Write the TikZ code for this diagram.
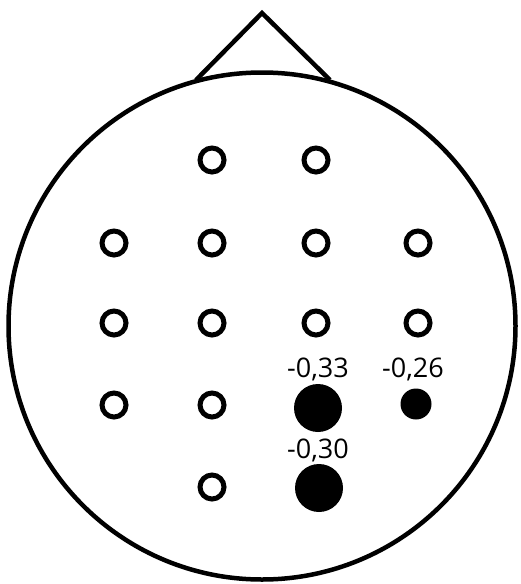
\documentclass[tikz,border=0pt]{standalone}
\usepackage{fontspec}
\setmainfont{Open Sans}
\begin{document}
\begin{tikzpicture}[x=1pt,y=-1pt,
  headline/.style={line width=4.5pt},
  elec/.style={circle,draw,line width=5pt,minimum size=24pt,inner sep=0pt},
  hot/.style={circle,fill=black,inner sep=0pt},
  val/.style={font=\fontsize{27}{27}\selectfont,inner sep=0pt}]
\useasboundingbox (0,0) rectangle (520,584);
\fill[white] (0,0) rectangle (520,584);
\coordinate (apex) at (262,13);
\coordinate (nl) at (196,80);
\coordinate (nr) at (330,80);
\draw[headline,line join=miter] (nl) -- (apex) -- (nr);
\node[circle,draw,headline,fill=white,minimum size=507pt,inner sep=0pt] (head) at (262,326) {};
% electrodes
\node[elec] (e12) at (212,160) {};
\node[elec] (e13) at (316,160) {};
\node[elec] (e21) at (114,243) {};
\node[elec] (e22) at (212,243) {};
\node[elec] (e23) at (316,243) {};
\node[elec] (e24) at (418,243) {};
\node[elec] (e31) at (114,323) {};
\node[elec] (e32) at (212,323) {};
\node[elec] (e33) at (316,323) {};
\node[elec] (e34) at (418,323) {};
\node[elec] (e41) at (114,405) {};
\node[elec] (e42) at (212,405) {};
\node[hot,minimum size=48pt] (e43) at (318,408) {};
\node[hot,minimum size=31pt] (e44) at (416,404) {};
\node[elec] (e52) at (212,487) {};
\node[hot,minimum size=48pt] (e53) at (319,488) {};
\node[val] (l43) at (318,369) {-0,33};
\node[val] (l44) at (413,369) {-0,26};
\node[val] (l53) at (318,450) {-0,30};
\end{tikzpicture}
\end{document}
